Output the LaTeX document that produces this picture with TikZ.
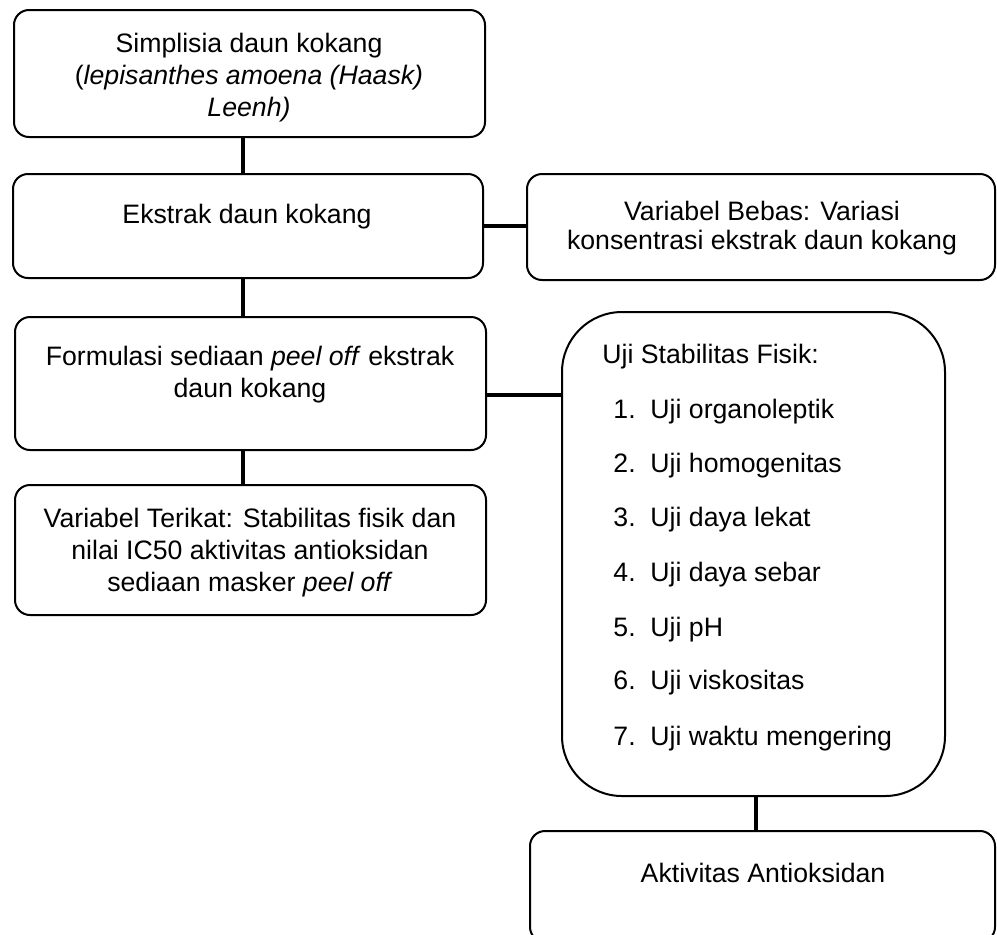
\documentclass[tikz,border=0pt]{standalone}
\usepackage{fontspec}
\setmainfont{Liberation Sans}
\usetikzlibrary{fit}
\tikzset{
  box/.style={draw=black, line width=0.9pt, rounded corners=6.75pt, inner sep=0pt},
  conn/.style={draw=black, line width=1.6pt},
  txt/.style={font=\fontsize{12}{14.4}\selectfont, align=center, inner sep=0pt},
  item/.style={font=\fontsize{12}{14.4}\selectfont, anchor=west, inner sep=0pt}
}
\begin{document}
\begin{tikzpicture}[x=0.45pt,y=-0.45pt]
\useasboundingbox (0,0) rectangle (997,934);
\fill[white] (0,0) rectangle (997,934);
\begin{scope}
\clip (0,0) rectangle (997,934);
\node[box, fit={(14,10)(485,137)}] (b1) {};
\node[box, fit={(13,174)(483,278)}] (b2) {};
\node[box, fit={(527,174)(995,280)}] (b3) {};
\node[box, fit={(15,317)(486,450)}] (b4) {};
\node[box, fit={(15,485)(486,615)}] (b5) {};
\node[box, rounded corners=27pt, fit={(562,312)(945,796)}] (b6) {};
\node[box, fit={(530,831)(995,942)}] (b7) {};

\coordinate (xl) at (243,0);
\coordinate (y2) at (0,226);
\coordinate (y4) at (0,395);
\coordinate (x6) at (756,0);
\draw[conn] (b1.south -| xl) -- (b2.north -| xl);
\draw[conn] (b2.east |- y2) -- (b3.west |- y2);
\draw[conn] (b2.south -| xl) -- (b4.north -| xl);
\draw[conn] (b4.east |- y4) -- (b6.west |- y4);
\draw[conn] (b4.south -| xl) -- (b5.north -| xl);
\draw[conn] (b6.south -| x6) -- (b7.north -| x6);

\node[txt] (t1) at (249,78) {Simplisia daun kokang\\(\textit{lepisanthes amoena (Haask)}\\\textit{Leenh)}};
\node[txt] (t2) at (247,217) {Ekstrak daun kokang};
\node[txt, font=\fontsize{12}{13}\selectfont] (t3) at (762,228) {Variabel Bebas: Variasi\\konsentrasi ekstrak daun kokang};
\node[txt] (t4) at (250,375) {Formulasi sediaan \textit{peel off} ekstrak\\daun kokang};
\node[txt] (t5) at (250,553) {Variabel Terikat: Stabilitas fisik dan\\nilai IC50 aktivitas antioksidan\\sediaan masker \textit{peel off}};
\node[item] (t6) at (602,357) {Uji Stabilitas Fisik:};
\node[item] (i1) at (613,412) {\makebox[16.65pt][l]{1.}Uji organoleptik};
\node[item] (i2) at (613,466) {\makebox[16.65pt][l]{2.}Uji homogenitas};
\node[item] (i3) at (613,520) {\makebox[16.65pt][l]{3.}Uji daya lekat};
\node[item] (i4) at (613,575) {\makebox[16.65pt][l]{4.}Uji daya sebar};
\node[item] (i5) at (613,630) {\makebox[16.65pt][l]{5.}Uji pH};
\node[item] (i6) at (613,683) {\makebox[16.65pt][l]{6.}Uji viskositas};
\node[item] (i7) at (613,739) {\makebox[16.65pt][l]{7.}Uji waktu mengering};
\node[txt] (t7) at (763,873) {Aktivitas Antioksidan};
\end{scope}
\end{tikzpicture}
\end{document}
